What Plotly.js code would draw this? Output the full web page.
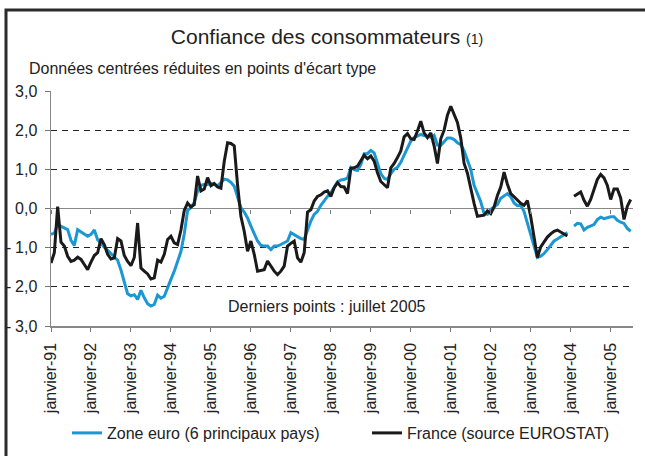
<!DOCTYPE html>
<html>
<head>
<meta charset="utf-8">
<script src="https://cdn.plot.ly/plotly-3.0.1.min.js"></script>
<style>
  html, body { margin: 0; padding: 0; background: #fff; }
  #chart { width: 645px; height: 456px; }
</style>
</head>
<body>
<div id="chart"></div>
<script>
// Monthly data, January 1991 to July 2005 (175 months)
const zoneEuro = [
  -0.66, -0.63, -0.41, -0.46, -0.49, -0.54, -0.81, -0.94, -0.54, -0.60, -0.67, -0.71,
  -0.66, -0.55, -0.80, -0.90, -0.99, -1.07, -1.16, -1.23, -1.32, -1.57, -1.91, -2.18,
  -2.23, -2.20, -2.32, -2.09, -2.28, -2.43, -2.49, -2.45, -2.21, -2.29, -2.24, -2.00,
  -1.81, -1.60, -1.34, -1.10, -0.65, -0.05, 0.02, 0.16, 0.44, 0.59, 0.61, 0.61,
  0.64, 0.60, 0.58, 0.66, 0.75, 0.73, 0.67, 0.57, 0.30, 0.02, -0.09, -0.24,
  -0.45, -0.66, -0.83, -0.94, -0.96, -0.96, -1.05, -0.96, -0.96, -0.92, -0.88, -0.83,
  -0.62, -0.67, -0.72, -0.77, -0.79, -0.54, -0.32, -0.15, -0.07, 0.08, 0.20, 0.31,
  0.40, 0.54, 0.68, 0.73, 0.74, 0.78, 1.05, 0.99, 0.97, 1.12, 1.40, 1.40,
  1.48, 1.42, 1.17, 0.89, 0.77, 0.74, 0.89, 1.00, 1.05, 1.18, 1.36, 1.53,
  1.72, 1.81, 1.85, 1.89, 1.86, 1.84, 1.82, 1.87, 1.62, 1.61, 1.71, 1.80,
  1.80, 1.76, 1.68, 1.63, 1.47, 1.25, 1.00, 0.59, 0.37, 0.17, -0.13, -0.15,
  -0.02, 0.04, 0.10, 0.26, 0.31, 0.38, 0.30, 0.14, 0.07, 0.08, -0.08, -0.38,
  -0.72, -0.95, -1.25, -1.22, -1.15, -1.05, -0.93, -0.83, -0.78, -0.72, -0.66, -0.61,
  null, -0.45, -0.38, -0.39, -0.55, -0.48, -0.45, -0.41, -0.28, -0.22, -0.26, -0.24,
  -0.21, -0.21, -0.30, -0.35, -0.38, -0.51, -0.58
];
const france = [
  -1.39, -1.13, 0.05, -0.86, -0.96, -1.22, -1.35, -1.32, -1.24, -1.30, -1.43, -1.56,
  -1.37, -1.20, -1.13, -0.77, -0.92, -1.17, -1.29, -1.26, -0.77, -0.83, -1.20, -1.35,
  -1.46, -1.25, -0.37, -1.52, -1.60, -1.67, -1.80, -1.77, -1.32, -1.37, -1.17, -0.79,
  -0.71, -0.88, -0.92, -0.55, -0.05, 0.14, 0.04, 0.10, 0.83, 0.45, 0.50, 0.79,
  0.58, 0.64, 0.55, 0.52, 1.20, 1.68, 1.66, 1.60, 0.60, -0.20, -0.58, -1.09,
  -0.83, -1.17, -1.60, -1.57, -1.56, -1.34, -1.47, -1.60, -1.69, -1.60, -1.47, -0.96,
  -0.89, -0.83, -1.26, -1.37, -1.13, -0.09, -0.03, 0.19, 0.31, 0.35, 0.42, 0.45,
  0.31, 0.53, 0.66, 0.56, 0.55, 0.38, 1.02, 1.04, 1.08, 1.21, 1.36, 1.27,
  1.34, 1.21, 0.91, 0.69, 0.61, 0.53, 1.04, 1.15, 1.30, 1.47, 1.83, 1.91,
  1.78, 1.76, 1.98, 2.23, 1.93, 1.81, 1.93, 1.60, 1.15, 1.78, 2.00, 2.38,
  2.61, 2.42, 2.20, 1.80, 1.15, 0.90, 0.47, 0.13, -0.20, -0.18, -0.17, -0.06,
  -0.13, 0.04, 0.33, 0.55, 0.93, 0.62, 0.38, 0.30, 0.21, 0.13, 0.08, 0.20,
  -0.21, -0.72, -1.25, -0.98, -0.85, -0.73, -0.65, -0.58, -0.55, -0.60, -0.64, -0.70,
  null, 0.31, 0.36, 0.42, 0.21, 0.06, 0.23, 0.49, 0.74, 0.87, 0.78, 0.59,
  0.23, 0.50, 0.50, 0.27, -0.28, 0.06, 0.23
];
const tickLabels = ['janvier-91','janvier-92','janvier-93','janvier-94','janvier-95',
  'janvier-96','janvier-97','janvier-98','janvier-99','janvier-00','janvier-01',
  'janvier-02','janvier-03','janvier-04','janvier-05'];
const tickPositions = tickLabels.map((_, k) => k * 12);
const yTickVals = [-3, -2, -1, 0, 1, 2, 3];
const yTickText = ['3,0', '2,0', '1,0', '0,0', '1,0', '2,0', '3,0'];
const seriesNames = ['Zone euro (6 principaux pays)', 'France (source EUROSTAT)'];
const monthIndex = zoneEuro.map((_, i) => i);

const FONT = 'Liberation Sans, Arial, Helvetica, sans-serif';
const FS = 16;
const W = 645, H = 456;
const L = 51, R = 12, T = 91, B = 130;
const pw = W - L - R, ph = H - T - B;
const px = v => (v - L) / pw;          // container px -> paper x
const py = v => (H - B - v) / ph;      // container px -> paper y

const traces = [
  { x: monthIndex, y: zoneEuro, name: seriesNames[0], type: 'scatter', mode: 'lines',
    line: { color: '#1b98d3', width: 3 }, connectgaps: false, legend: 'legend' },
  { x: monthIndex, y: france, name: seriesNames[1], type: 'scatter', mode: 'lines',
    line: { color: '#1a1a1a', width: 3 }, connectgaps: false, legend: 'legend2' },
  { x: [], y: [], xaxis: 'x2', yaxis: 'y', showlegend: false, hoverinfo: 'skip' }
];

const minusNotes = yTickVals.filter(v => v < 0).map(v => ({
  xref: 'paper', x: px(8), yref: 'y', y: v, text: '-', showarrow: false,
  xanchor: 'center', yanchor: 'middle', font: { family: FONT, size: FS, color: '#222' }
}));

const legendBase = {
  orientation: 'h', xref: 'container', xanchor: 'left',
  yref: 'container', y: 1 - 433 / H, yanchor: 'middle', itemwidth: 30,
  font: { family: FONT, size: FS, color: '#222' }, bgcolor: 'rgba(0,0,0,0)'
};

const layout = {
  width: W, height: H,
  margin: { l: L, r: R, t: T, b: B, pad: 0 },
  paper_bgcolor: '#fff', plot_bgcolor: '#fff',
  font: { family: FONT, color: '#222' },
  title: {
    text: 'Confiance des consommateurs <span style="font-size:14px">(1)</span>',
    font: { family: FONT, size: 21, color: '#222' },
    xref: 'container', x: 327 / W, xanchor: 'center',
    yref: 'container', y: 1 - 37 / H, yanchor: 'middle'
  },
  xaxis: {
    range: [0, 174.7], tickvals: tickPositions, ticktext: tickLabels,
    tickangle: -90, ticks: 'outside', ticklen: 4, tickcolor: '#777', tickwidth: 1,
    showline: true, linecolor: '#888', linewidth: 1.5,
    showgrid: false, zeroline: false, ticklabelstandoff: 5,
    tickfont: { family: FONT, size: FS, color: '#222' }, fixedrange: true
  },
  xaxis2: {
    overlaying: 'x', anchor: 'free', position: 0.5, side: 'bottom',
    range: [0, 174.7], tickvals: tickPositions, showticklabels: false,
    ticks: 'outside', ticklen: 4, tickcolor: '#777', tickwidth: 1,
    showline: false, showgrid: false, zeroline: false
  },
  yaxis: {
    range: [-3, 3], tickvals: yTickVals, ticktext: yTickText,
    ticks: 'outside', ticklen: 5, tickcolor: '#777',
    showline: true, linecolor: '#888', linewidth: 1.5,
    showgrid: true, gridcolor: '#222', gridwidth: 1, griddash: '6px,5px',
    zeroline: true, zerolinecolor: '#888', zerolinewidth: 1.5,
    ticklabelstandoff: 4,
    tickfont: { family: FONT, size: FS, color: '#222' }, fixedrange: true
  },
  showlegend: true,
  legend: Object.assign({}, legendBase, { x: 67 / W }),
  legend2: Object.assign({}, legendBase, { x: 367 / W }),
  annotations: [
    { xref: 'paper', x: px(27), yref: 'paper', y: py(68), xanchor: 'left', yanchor: 'middle',
      text: "Données centrées réduites en points d'écart type", showarrow: false,
      font: { family: FONT, size: FS, color: '#222' } },
    { xref: 'paper', x: px(327), yref: 'paper', y: py(306), xanchor: 'center', yanchor: 'middle',
      text: 'Derniers points : juillet 2005', showarrow: false,
      font: { family: FONT, size: FS, color: '#222' } }
  ].concat(minusNotes),
  shapes: [
    { type: 'rect', xref: 'paper', yref: 'paper',
      x0: px(6), x1: px(700), y0: py(520), y1: py(10),
      line: { color: '#2b2b2b', width: 3 }, fillcolor: 'rgba(0,0,0,0)', layer: 'above' }
  ]
};

Plotly.newPlot('chart', traces, layout, { staticPlot: true, displayModeBar: false });
</script>
</body>
</html>
